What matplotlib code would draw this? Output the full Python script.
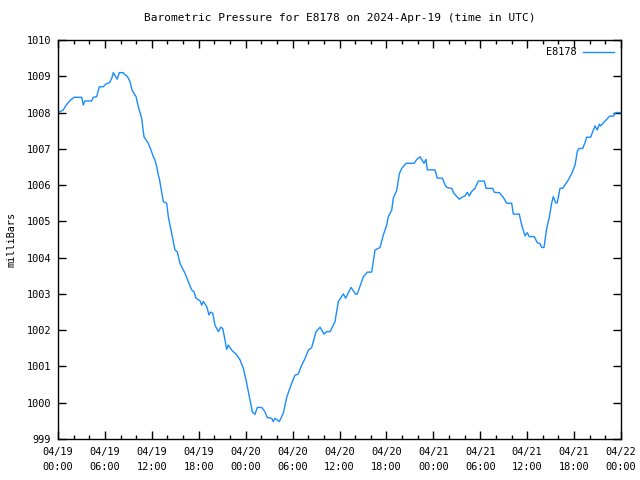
import numpy as np
import pandas as pd
import matplotlib
matplotlib.use("Agg")
import matplotlib.pyplot as plt
import matplotlib.dates as mdates

station = "E8178"
start = "2024-04-19 00:00"

# hours since 04/19 00:00 UTC
hours = [0.0, 0.68, 1.02, 1.53, 2.05, 3.03, 3.24, 3.45, 4.31, 4.51, 4.95, 5.28, 5.79, 6.14,
         6.56, 6.87, 7.07, 7.58, 7.84, 8.35, 8.57, 8.86, 9.21, 9.46, 9.98, 10.27, 10.7, 11.0,
         11.55, 11.89, 12.19, 12.4, 12.62, 12.83, 12.95, 13.47, 13.9, 14.11, 14.54, 14.96,
         15.26, 15.6, 16.24, 16.66, 17.1, 17.39, 17.65, 18.16, 18.38, 18.58, 19.02, 19.31,
         19.53, 19.78, 20.08, 20.5, 20.81, 21.06, 21.36, 21.57, 21.78, 22.21, 22.85, 23.28,
         23.7, 24.13, 24.55, 24.85, 25.19, 25.49, 26.05, 26.47, 26.77, 27.33, 27.53, 27.75,
         28.3, 28.81, 29.25, 29.89, 30.31, 30.73, 31.17, 31.59, 32.01, 32.44, 33.0, 33.51,
         34.02, 34.36, 34.79, 35.42, 35.85, 36.49, 36.79, 37.47, 38.07, 38.28, 39.04, 39.56,
         40.12, 40.54, 41.18, 41.6, 42.04, 42.24, 42.68, 42.88, 43.32, 43.65, 43.96, 44.51,
         45.57, 45.88, 46.3, 46.81, 47.06, 47.23, 48.21, 48.51, 49.15, 49.58, 49.79, 50.35,
         50.64, 51.32, 51.63, 52.05, 52.34, 52.6, 52.9, 53.33, 53.75, 54.52, 54.74, 55.59,
         55.8, 56.44, 56.95, 57.39, 58.02, 58.23, 58.99, 59.3, 59.72, 60.01, 60.27, 60.91,
         61.3, 61.64, 61.86, 62.15, 62.5, 62.83, 63.14, 63.34, 63.65, 63.85, 64.2, 64.54,
         65.26, 65.7, 66.12, 66.41, 66.63, 67.1, 67.4, 67.61, 68.12, 68.38, 68.68, 68.97,
         69.23, 69.4, 69.74, 70.17, 70.51, 71.02, 71.32, 71.96]

pressure = [1008.0, 1008.07, 1008.2, 1008.33, 1008.42, 1008.42, 1008.21, 1008.32, 1008.32,
            1008.42, 1008.44, 1008.71, 1008.71, 1008.79, 1008.82, 1008.94, 1009.1, 1008.92,
            1009.1, 1009.1, 1009.04, 1009.0, 1008.85, 1008.62, 1008.44, 1008.16, 1007.84,
            1007.33, 1007.15, 1006.97, 1006.78, 1006.69, 1006.51, 1006.28, 1006.19, 1005.54,
            1005.5, 1005.13, 1004.67, 1004.21, 1004.16, 1003.84, 1003.57, 1003.34, 1003.11,
            1003.06, 1002.88, 1002.81, 1002.69, 1002.79, 1002.65, 1002.42, 1002.5, 1002.47,
            1002.14, 1001.96, 1002.08, 1002.05, 1001.73, 1001.47, 1001.59, 1001.45, 1001.32,
            1001.18, 1000.95, 1000.54, 1000.07, 999.75, 999.68, 999.87, 999.87, 999.75, 999.59,
            999.57, 999.48, 999.57, 999.48, 999.71, 1000.15, 1000.54, 1000.76, 1000.79,
            1001.04, 1001.22, 1001.45, 1001.52, 1001.96, 1002.08, 1001.89, 1001.96, 1001.96,
            1002.23, 1002.79, 1003.0, 1002.88, 1003.18, 1002.99, 1003.0, 1003.47, 1003.6,
            1003.6, 1004.21, 1004.28, 1004.62, 1004.9, 1005.13, 1005.31, 1005.64, 1005.86,
            1006.31, 1006.46, 1006.6, 1006.6, 1006.71, 1006.78, 1006.6, 1006.71, 1006.42,
            1006.42, 1006.19, 1006.19, 1005.97, 1005.93, 1005.91, 1005.77, 1005.61, 1005.66,
            1005.7, 1005.8, 1005.7, 1005.82, 1005.91, 1006.11, 1006.11, 1005.91, 1005.91,
            1005.8, 1005.79, 1005.66, 1005.5, 1005.5, 1005.2, 1005.2, 1004.9, 1004.6, 1004.69,
            1004.58, 1004.58, 1004.41, 1004.39, 1004.28, 1004.28, 1004.81, 1005.11, 1005.51,
            1005.68, 1005.51, 1005.51, 1005.91, 1005.91, 1006.14, 1006.32, 1006.55, 1006.92,
            1007.01, 1007.01, 1007.17, 1007.32, 1007.32, 1007.47, 1007.63, 1007.52, 1007.68,
            1007.63, 1007.72, 1007.81, 1007.9, 1007.9, 1008.0, 1008.0]

times = pd.Timestamp(start) + pd.to_timedelta(hours, unit="h")

plt.rcParams['font.family'] = ['DejaVu Sans Mono']
plt.rcParams['font.size'] = 7.4

fig = plt.figure(figsize=(6.4, 4.8), dpi=100)
ax = fig.add_axes([58 / 640, 41 / 480, 563 / 640, 399 / 480])

ax.plot(times, pressure, color='#1a8cff', lw=1, label=station)

ax.set_xlim(pd.Timestamp(start), pd.Timestamp("2024-04-22 00:00"))
ax.set_ylim(999, 1010)
ax.set_yticks(np.arange(999, 1011, 1))
ax.xaxis.set_major_locator(mdates.HourLocator(byhour=[0, 6, 12, 18]))
ax.xaxis.set_minor_locator(mdates.HourLocator(interval=2))
ax.xaxis.set_major_formatter(mdates.DateFormatter("%m/%d\n%H:%M"))
for lbl in ax.get_xticklabels():
    lbl.set_linespacing(1.6)

ax.tick_params(which='both', direction='in', top=True, right=True, width=1)
ax.tick_params(which='major', length=6, pad=6)
ax.tick_params(axis='y', pad=5)
ax.tick_params(which='minor', length=3)
for s in ax.spines.values():
    s.set_linewidth(1)

ax.set_ylabel("milliBars", labelpad=7)
ax.set_title("Barometric Pressure for E8178 on 2024-Apr-19 (time in UTC)",
             fontsize=8, pad=14)
ax.legend(loc='upper right', frameon=False, handlelength=3, markerfirst=False,
          borderaxespad=0.3, handletextpad=0.6)

fig.savefig("out.png", dpi=100)
